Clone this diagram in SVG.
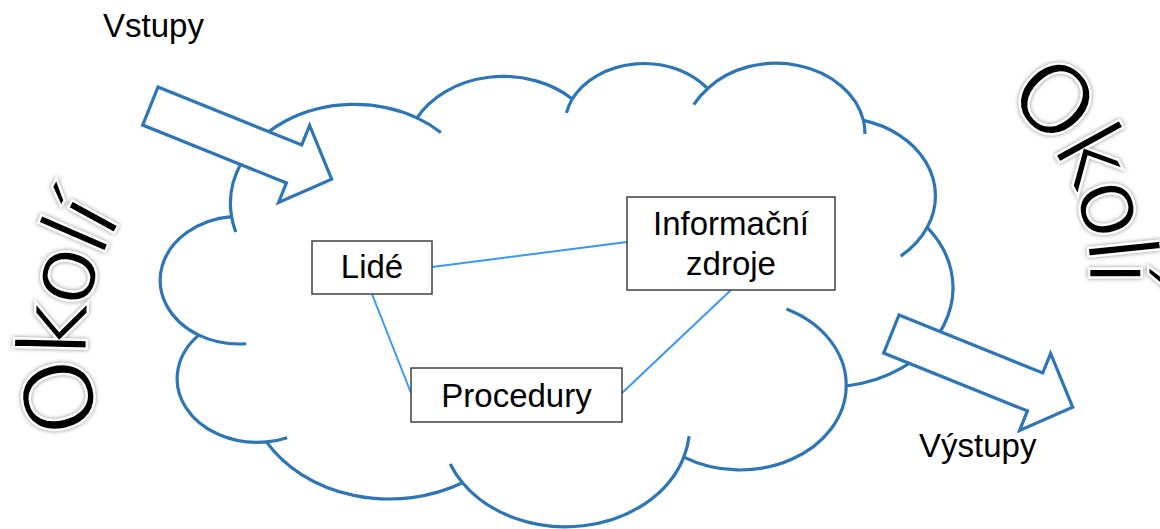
<svg xmlns="http://www.w3.org/2000/svg" width="1160" height="529" viewBox="0 0 1160 529">
<defs>
<style>
.cloud{fill:#fff;stroke:#2E75B6;stroke-width:3.2;stroke-linejoin:round}
.inner{fill:none;stroke:#2E75B6;stroke-width:3.2}
.arrow{fill:#fff;stroke:#2E75B6;stroke-width:3.2;stroke-linejoin:miter}
.box{fill:#fff;stroke:#404040;stroke-width:1.5}
.lbl{font-family:"Liberation Sans",Arial,sans-serif;font-size:33px;fill:#000}
.conn{stroke:#3A98F2;stroke-width:2;fill:none}
.okoli{font-family:"DejaVu Sans",sans-serif;font-size:96px;letter-spacing:-6px;fill:#000;stroke:#fff;stroke-width:2.4;filter:url(#glow)}
</style>
<filter id="glow" x="-30%" y="-30%" width="160%" height="160%">
<feGaussianBlur in="SourceAlpha" stdDeviation="2" result="b"/>
<feFlood flood-color="#7f7f7f" flood-opacity="0.9"/>
<feComposite in2="b" operator="in" result="s"/>
<feMerge><feMergeNode in="s"/><feMergeNode in="SourceGraphic"/></feMerge>
</filter>
<path id="arcL" d="M 139.6 484.6 A 225 225 0 0 1 235 128.6"/>
<path id="arcR" d="M 947.5 69 A 215 215 0 0 1 1076 344.5"/>
</defs>
<rect width="1160" height="529" fill="#fff"/>
<g id="cloud" transform="translate(160,62) scale(0.018356,0.010764)">
<path class="cloud" vector-effect="non-scaling-stroke" d="M3900 14370 A6753 9190 0 0 1 14000 5192 A5333 7267 0 0 1 22456 3432 A4365 5945 0 0 1 29833 2481 A4857 6595 0 0 1 38324 5426 A5333 7273 0 0 1 41798 15354 A6775 9220 0 0 1 37384 30098 A5785 7867 0 0 1 28536 36709 A6752 9215 0 0 1 16478 39090 A7720 10543 0 0 1 5802 35295 A4360 5918 0 0 1 2111 25373 A4345 5945 0 0 1 3900 14370 Z"/>
<path class="inner" vector-effect="non-scaling-stroke" d="M4693 26177 A4345 5945 0 0 1 2111 25373 M6928 34899 A4360 5918 0 0 1 5802 35295 M16478 39090 A6752 9215 0 0 1 15810 37350 M28827 34751 A6752 9215 0 0 1 28536 36709 M34129 22954 A5785 7867 0 0 1 37384 30098 M41798 15354 A5333 7273 0 0 1 40351 18029 M38324 5426 A4857 6595 0 0 1 38400 6690 M29078 3952 A4857 6595 0 0 1 29833 2481 M22141 4720 A4365 5945 0 0 1 22456 3432 M14000 5192 A6753 9190 0 0 1 15300 6540 M4127 15789 A6753 9190 0 0 1 3900 14370"/>
</g>
<g id="connectors">
<line class="conn" x1="432" y1="267" x2="627" y2="242"/>
<line class="conn" x1="372" y1="294" x2="411" y2="393"/>
<line class="conn" x1="731" y1="290" x2="622" y2="393"/>
</g>
<g id="lide">
<rect class="box" x="312" y="241" width="120" height="53"/>
<text class="lbl" x="372" y="278" text-anchor="middle">Lidé</text>
</g>
<g id="informacni-zdroje">
<rect class="box" x="627" y="197" width="208" height="93"/>
<text class="lbl" x="731" y="235" text-anchor="middle">Informační</text>
<text class="lbl" x="731" y="275" text-anchor="middle">zdroje</text>
</g>
<g id="procedury">
<rect class="box" x="411" y="368" width="211" height="54"/>
<text class="lbl" x="516.5" y="407" text-anchor="middle">Procedury</text>
</g>
<g id="arrow-in">
<polygon class="arrow" transform="translate(158,87) rotate(21.95)" points="0,0 155,0 155,-21 195.5,20.5 155,62 155,41 0,41"/>
</g>
<g id="arrow-out">
<polygon class="arrow" transform="translate(899,315) rotate(21.95)" points="0,0 155,0 155,-21 195.5,20.5 155,62 155,41 0,41"/>
</g>
<g id="vstupy"><text class="lbl" x="103" y="37">Vstupy</text></g>
<g id="vystupy"><text class="lbl" x="919" y="457">Výstupy</text></g>
<g id="okoli-left"><text class="okoli"><textPath href="#arcL" startOffset="70">Okolí</textPath></text></g>
<g id="okoli-right"><text class="okoli"><textPath href="#arcR" startOffset="62">Okolí</textPath></text></g>
</svg>
